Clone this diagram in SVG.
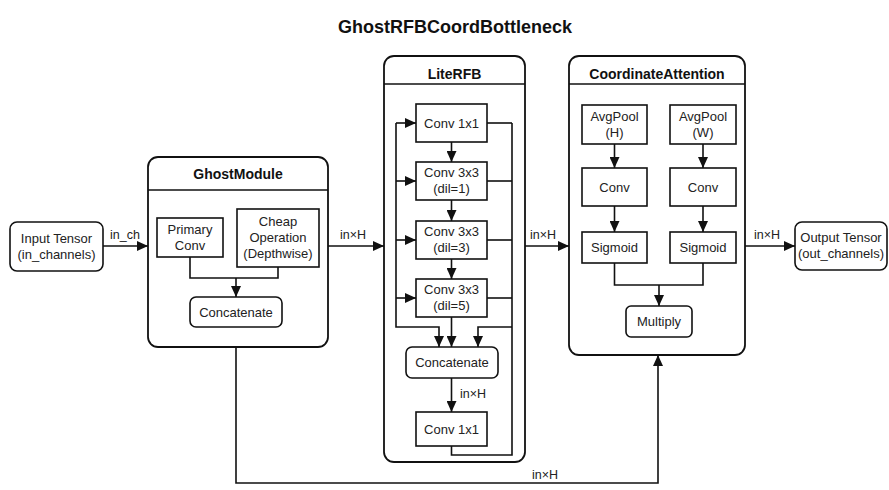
<svg xmlns="http://www.w3.org/2000/svg" width="889" height="490" viewBox="0 0 889 490">
<defs>
<marker id="ah" markerUnits="userSpaceOnUse" markerWidth="12" markerHeight="10" refX="11" refY="5" orient="auto">
<path d="M0,0 L11,5 L0,10 Z" fill="#111"/>
</marker>
<style>
.box{fill:#fff;stroke:#111;stroke-width:1.6}
.mod{fill:#fff;stroke:#111;stroke-width:1.8}
.t{font-family:"Liberation Sans",Arial,sans-serif;font-size:13px;fill:#222;text-anchor:middle}
.h{font-family:"Liberation Sans",Arial,sans-serif;font-size:14px;font-weight:bold;fill:#111;text-anchor:middle}
.lbl{font-family:"Liberation Sans",Arial,sans-serif;font-size:12.5px;fill:#222;text-anchor:middle}
.lbs{font-family:"Liberation Sans",Arial,sans-serif;font-size:12.5px;fill:#222;text-anchor:start}
.c{fill:none;stroke:#111;stroke-width:1.6}
.a{fill:none;stroke:#111;stroke-width:1.6;marker-end:url(#ah)}
</style>
</defs>
<rect width="889" height="490" fill="#fff"/>
<text x="455" y="33" font-family="'Liberation Sans',Arial,sans-serif" font-size="18" font-weight="bold" fill="#111" text-anchor="middle">GhostRFBCoordBottleneck</text>

<g id="input">
<rect class="box" x="10" y="222" width="93" height="49" rx="7"/>
<text class="t" x="56.5" y="243">Input Tensor</text>
<text class="t" x="56.5" y="259">(in_channels)</text>
</g>

<g id="ghostmodule">
<rect class="mod" x="148" y="157" width="180" height="190" rx="10"/>
<line class="c" x1="148" y1="190" x2="328" y2="190"/>
<text class="h" x="238" y="179">GhostModule</text>
</g>
<g id="primary">
<rect class="box" x="157" y="218" width="66" height="39"/>
<text class="t" x="190" y="234">Primary</text>
<text class="t" x="190" y="250">Conv</text>
</g>
<g id="cheap">
<rect class="box" x="237" y="209" width="82" height="58"/>
<text class="t" x="278" y="226">Cheap</text>
<text class="t" x="278" y="242">Operation</text>
<text class="t" x="278" y="258">(Depthwise)</text>
</g>
<g id="ghost_concat">
<rect class="box" x="190" y="297" width="92" height="30" rx="6"/>
<text class="t" x="236" y="317">Concatenate</text>
</g>

<g id="literfb">
<rect class="mod" x="384" y="56" width="141" height="406" rx="10"/>
<line class="c" x1="384" y1="84" x2="525" y2="84"/>
<text class="h" x="454.5" y="79">LiteRFB</text>
</g>
<g id="rfb_conv1">
<rect class="box" x="416" y="104" width="71" height="38"/>
<text class="t" x="451.5" y="128">Conv 1x1</text>
</g>
<g id="rfb_dil1">
<rect class="box" x="416" y="162" width="71" height="38"/>
<text class="t" x="451.5" y="177">Conv 3x3</text>
<text class="t" x="451.5" y="193">(dil=1)</text>
</g>
<g id="rfb_dil3">
<rect class="box" x="416" y="221" width="71" height="38"/>
<text class="t" x="451.5" y="236">Conv 3x3</text>
<text class="t" x="451.5" y="252">(dil=3)</text>
</g>
<g id="rfb_dil5">
<rect class="box" x="416" y="279" width="71" height="38"/>
<text class="t" x="451.5" y="294">Conv 3x3</text>
<text class="t" x="451.5" y="310">(dil=5)</text>
</g>
<g id="rfb_concat">
<rect class="box" x="406" y="347" width="92" height="31" rx="6"/>
<text class="t" x="452" y="367">Concatenate</text>
</g>
<g id="rfb_conv_out">
<rect class="box" x="416" y="412" width="71" height="34"/>
<text class="t" x="451.5" y="434">Conv 1x1</text>
</g>

<g id="coordattention">
<rect class="mod" x="569" y="56" width="176" height="299" rx="10"/>
<line class="c" x1="569" y1="84" x2="745" y2="84"/>
<text class="h" x="657" y="79">CoordinateAttention</text>
</g>
<g id="avgpool_h">
<rect class="box" x="582" y="105" width="65" height="39"/>
<text class="t" x="614.5" y="121">AvgPool</text>
<text class="t" x="614.5" y="137">(H)</text>
</g>
<g id="avgpool_w">
<rect class="box" x="670" y="105" width="66" height="39"/>
<text class="t" x="703" y="121">AvgPool</text>
<text class="t" x="703" y="137">(W)</text>
</g>
<g id="conv_h">
<rect class="box" x="582" y="168" width="65" height="38"/>
<text class="t" x="614.5" y="192">Conv</text>
</g>
<g id="conv_w">
<rect class="box" x="670" y="168" width="66" height="38"/>
<text class="t" x="703" y="192">Conv</text>
</g>
<g id="sigmoid_h">
<rect class="box" x="582" y="232" width="65" height="31"/>
<text class="t" x="614.5" y="252">Sigmoid</text>
</g>
<g id="sigmoid_w">
<rect class="box" x="670" y="232" width="66" height="31"/>
<text class="t" x="703" y="252">Sigmoid</text>
</g>
<g id="multiply">
<rect class="box" x="626" y="306" width="66" height="31" rx="5"/>
<text class="t" x="659" y="326">Multiply</text>
</g>

<g id="output">
<rect class="box" x="795" y="222" width="92" height="48" rx="7"/>
<text class="t" x="841" y="242">Output Tensor</text>
<text class="t" x="841" y="258">(out_channels)</text>
</g>

<g id="connectors">
<line class="a" x1="103" y1="246" x2="148" y2="246"/>
<text class="lbl" x="125" y="239">in_ch</text>
<polyline class="c" points="190,257 190,278 278,278 278,267"/>
<line class="a" x1="236" y1="278" x2="236" y2="297"/>
<line class="a" x1="328" y1="246" x2="384" y2="246"/>
<text class="lbl" x="353" y="239">in×H</text>

<polyline class="a" points="396,123 396,327 439,327 439,347"/>
<line class="a" x1="396" y1="123" x2="416" y2="123"/>
<line class="a" x1="396" y1="181" x2="416" y2="181"/>
<line class="a" x1="396" y1="240" x2="416" y2="240"/>
<line class="a" x1="396" y1="298" x2="416" y2="298"/>
<line class="a" x1="451.5" y1="142" x2="451.5" y2="162"/>
<line class="a" x1="451.5" y1="200" x2="451.5" y2="221"/>
<line class="a" x1="451.5" y1="259" x2="451.5" y2="279"/>
<line class="a" x1="451.5" y1="317" x2="451.5" y2="347"/>
<line class="c" x1="487" y1="123" x2="512" y2="123"/>
<line class="c" x1="487" y1="181" x2="512" y2="181"/>
<line class="c" x1="487" y1="240" x2="512" y2="240"/>
<line class="c" x1="487" y1="298" x2="512" y2="298"/>
<polyline class="c" points="451.5,446 451.5,455 512,455 512,123"/>
<polyline class="a" points="512,327 478,327 478,347"/>
<line class="a" x1="451.5" y1="378" x2="451.5" y2="412"/>
<text class="lbs" x="460" y="398">in×H</text>

<line class="a" x1="525" y1="246" x2="569" y2="246"/>
<text class="lbl" x="543" y="239">in×H</text>

<line class="a" x1="614.5" y1="144" x2="614.5" y2="168"/>
<line class="a" x1="703" y1="144" x2="703" y2="168"/>
<line class="a" x1="614.5" y1="206" x2="614.5" y2="232"/>
<line class="a" x1="703" y1="206" x2="703" y2="232"/>
<polyline class="c" points="614.5,263 614.5,285 703,285 703,263"/>
<line class="a" x1="659" y1="285" x2="659" y2="306"/>

<line class="a" x1="745" y1="246" x2="795" y2="246"/>
<text class="lbl" x="767" y="239">in×H</text>

<polyline class="a" points="236,347 236,483 658,483 658,355"/>
<text class="lbl" x="545" y="479">in×H</text>
</g>
</svg>
